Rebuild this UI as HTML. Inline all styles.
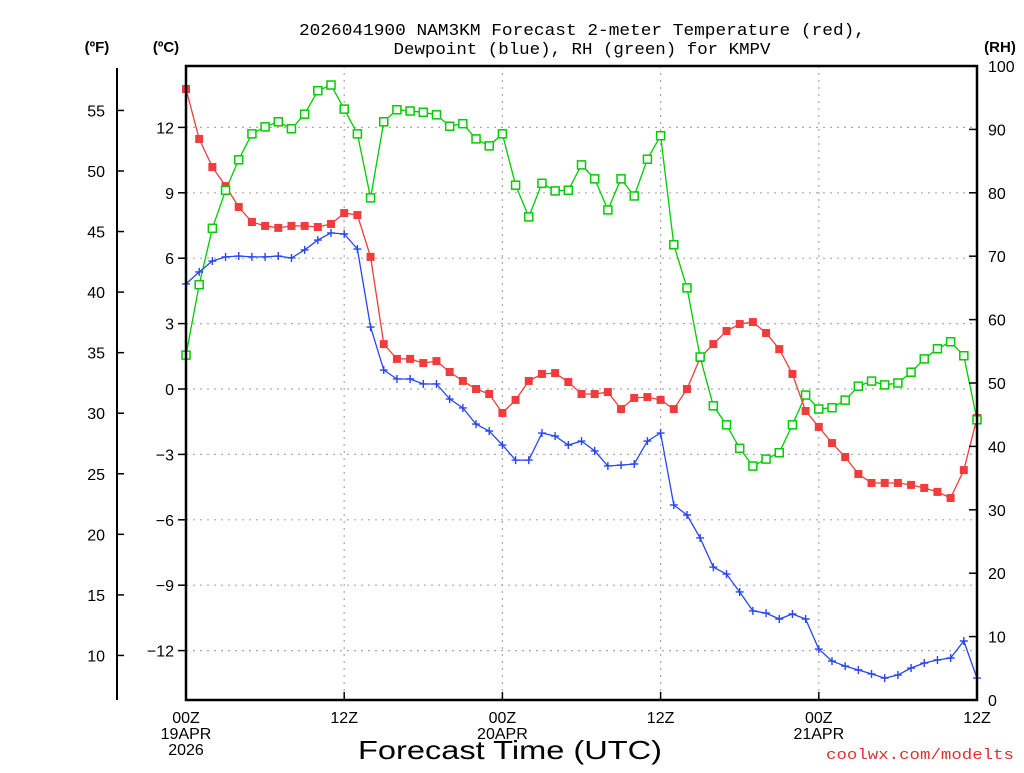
<!DOCTYPE html>
<html><head><meta charset="utf-8"><style>
body{margin:0;background:#fff;}
svg text{font-family:"Liberation Sans",sans-serif;}
</style></head><body>
<svg id="chart" width="1024" height="768" xmlns="http://www.w3.org/2000/svg">
<rect width="1024" height="768" fill="#fff"/>
<g id="grid"></g>
<g id="series"></g>
<g id="axes"></g>
<text x="582" y="35" font-size="17" text-anchor="middle" textLength="566" lengthAdjust="spacingAndGlyphs" style="font-family:'Liberation Mono',monospace">2026041900 NAM3KM Forecast 2-meter Temperature (red),</text>
<text x="582" y="54" font-size="17" text-anchor="middle" textLength="377" lengthAdjust="spacingAndGlyphs" style="font-family:'Liberation Mono',monospace">Dewpoint (blue), RH (green) for KMPV</text>
<text x="97" y="52" font-size="15" font-weight="bold" text-anchor="middle">(ºF)</text>
<text x="166" y="52" font-size="15" font-weight="bold" text-anchor="middle">(ºC)</text>
<text x="1000" y="52" font-size="15" font-weight="bold" text-anchor="middle">(RH)</text>
<text x="358" y="759" font-size="26" textLength="304" lengthAdjust="spacingAndGlyphs">Forecast Time (UTC)</text>
<text x="826" y="759" font-size="15" fill="#e03030" textLength="188" lengthAdjust="spacingAndGlyphs" style="font-family:'Liberation Mono',monospace">coolwx.com/modelts</text>
</svg>
<script>
const hours=[];for(let i=0;i<=60;i++)hours.push(i);
const tempC=[13.76,11.47,10.18,9.31,8.35,7.66,7.48,7.39,7.48,7.48,7.43,7.57,8.07,7.98,6.06,2.06,1.38,1.38,1.19,1.28,0.78,0.37,0,-0.23,-1.10,-0.50,0.37,0.69,0.73,0.32,-0.23,-0.23,-0.14,-0.92,-0.41,-0.37,-0.50,-0.92,0,1.42,2.06,2.66,2.98,3.07,2.57,1.83,0.69,-1.01,-1.74,-2.48,-3.12,-3.90,-4.31,-4.31,-4.31,-4.40,-4.54,-4.72,-5.0,-3.72,-1.33];
const dewC=[4.82,5.37,5.87,6.06,6.10,6.06,6.06,6.10,6.01,6.38,6.83,7.16,7.11,6.42,2.84,0.87,0.46,0.46,0.23,0.23,-0.46,-0.87,-1.61,-1.93,-2.57,-3.26,-3.26,-2.02,-2.16,-2.57,-2.39,-2.84,-3.53,-3.49,-3.44,-2.39,-2.02,-5.32,-5.78,-6.83,-8.17,-8.49,-9.31,-10.18,-10.28,-10.55,-10.32,-10.55,-11.93,-12.48,-12.71,-12.89,-13.07,-13.26,-13.12,-12.80,-12.57,-12.43,-12.34,-11.56,-13.26];
const rh=[54.4,65.5,74.4,80.4,85.2,89.3,90.4,91.2,90.1,92.4,96.1,97.0,93.2,89.3,79.2,91.2,93.1,92.9,92.7,92.3,90.5,90.9,88.5,87.4,89.3,81.2,76.2,81.5,80.3,80.4,84.4,82.2,77.3,82.2,79.5,85.3,89.0,71.8,65.0,54.1,46.4,43.4,39.7,36.9,38.0,39.0,43.4,48.1,45.9,46.1,47.3,49.5,50.3,49.7,50.0,51.7,53.8,55.4,56.5,54.3,44.2];
const cTicks=[-12,-9,-6,-3,0,3,6,9,12];
const fTicks=[10,15,20,25,30,35,40,45,50,55];
const rhTicks=[0,10,20,30,40,50,60,70,80,90,100];
const xTickHours=[0,12,24,36,48,60];
const xTickLabels=[["00Z","19APR","2026"],["12Z"],["00Z","20APR"],["12Z"],["00Z","21APR"],["12Z"]];

const L=186,R=977,T=66,B=700;
const xs=h=>L+(R-L)*h/60;
const yC=c=>389-21.8*c;
const yF=f=>yC((f-32)*5/9);
const yRH=r=>B-(B-T)*r/100;
const NS="http://www.w3.org/2000/svg";
function mk(parent,tag,attrs){const e=document.createElementNS(NS,tag);for(const k in attrs)e.setAttribute(k,attrs[k]);document.getElementById(parent).appendChild(e);return e;}

cTicks.forEach(c=>{
  const g=mk('grid','line',{x1:L,x2:R,y1:yC(c),y2:yC(c),stroke:'#aaa','stroke-dasharray':'2,5','stroke-width':1.2});
  
  
  const t=mk('axes','line',{x1:L-8,x2:L,y1:yC(c),y2:yC(c),stroke:'#000','stroke-width':1.5});
  
  
  const lb=mk('axes','text',{x:174,y:yC(c)+6,'font-size':16,'text-anchor':'end'});
  lb.textContent=c<0?'\u2212'+Math.abs(c):String(c);
  
  
});
xTickHours.forEach((h,i)=>{
  if(h>0&&h<60){const g=mk('grid','line',{x1:xs(h),x2:xs(h),y1:T,y2:B,stroke:'#aaa','stroke-dasharray':'2,5','stroke-width':1.2});
  
  }
  const t=mk('axes','line',{x1:xs(h),x2:xs(h),y1:B,y2:B-8,stroke:'#000','stroke-width':1.5});
  
  
  xTickLabels[i].forEach((s,j)=>{
    const lb=mk('axes','text',{x:xs(h),y:723+j*16,'font-size':16,'text-anchor':'middle'});
    lb.textContent=s;
    
    
  });
});
fTicks.forEach(f=>{
  const t=mk('axes','line',{x1:117,x2:124,y1:yF(f),y2:yF(f),stroke:'#000','stroke-width':1.5});
  
  
  const lb=mk('axes','text',{x:105,y:yF(f)+6,'font-size':16,'text-anchor':'end'});
  lb.textContent=f;
  
  
});
rhTicks.forEach(r=>{
  const t=mk('axes','line',{x1:R-8,x2:R,y1:yRH(r),y2:yRH(r),stroke:'#000','stroke-width':1.5});
  
  
  const lb=mk('axes','text',{x:988,y:yRH(r)+6,'font-size':16,'text-anchor':'start'});
  lb.textContent=r;
  
  
});
const fl=mk('axes','line',{x1:117,x2:117,y1:68,y2:700,stroke:'#000','stroke-width':2});


const fr=mk('axes','rect',{x:L,y:T,width:R-L,height:B-T,fill:'none',stroke:'#000','stroke-width':2.5});



function series(vals,yf,color,name){
  const pts=vals.map((v,i)=>xs(hours[i]).toFixed(1)+','+yf(v).toFixed(1)).join(' ');
  const pl=mk('series','polyline',{points:pts,fill:'none',stroke:color,'stroke-width':1.3});
  
  
}
series(rh,yRH,'#00cc00','rh');
series(tempC,yC,'#f03c3c','temperature');
series(dewC,yC,'#2846f0','dewpoint');
tempC.forEach((v,i)=>{
  const m=mk('series','rect',{x:xs(hours[i])-4,y:yC(v)-4,width:8,height:8,fill:'#f03c3c'});
  
  
});
dewC.forEach((v,i)=>{
  const x=xs(hours[i]),y=yC(v);
  const m=mk('series','path',{d:`M${x-4},${y}H${x+4}M${x},${y-4}V${y+4}`,stroke:'#2846f0','stroke-width':1.4,fill:'none'});
  
  
});
rh.forEach((v,i)=>{
  const m=mk('series','rect',{x:xs(hours[i])-4,y:yRH(v)-4,width:8,height:8,fill:'#fff',stroke:'#00cc00','stroke-width':1.5});
  
  
});
</script>
</body></html>
